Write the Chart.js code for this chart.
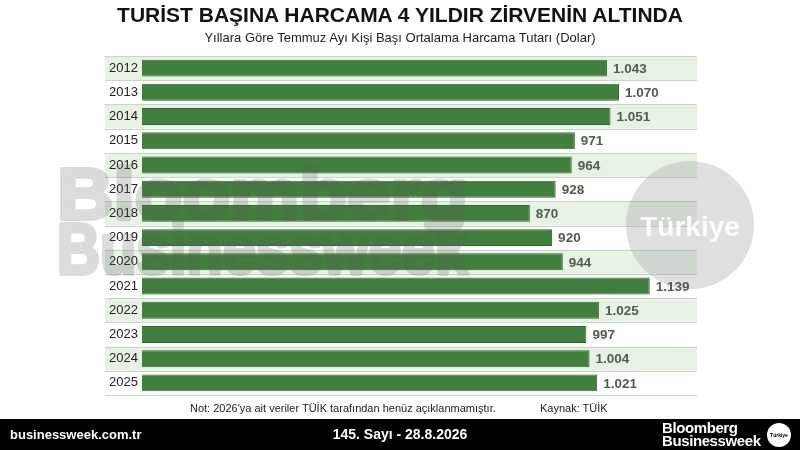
<!DOCTYPE html>
<html lang="tr">
<head>
<meta charset="utf-8">
<script src="https://cdn.jsdelivr.net/npm/chart.js@4.4.1/dist/chart.umd.min.js"></script>
<style>
    html, body { margin: 0; padding: 0; background: #fff; }
    body { width: 800px; height: 450px; position: relative; overflow: hidden;
           font-family: "Liberation Sans", Arial, sans-serif; }
    #chart { position: absolute; left: 0; top: 0; }
    .txt { position: absolute; white-space: nowrap; }
    #title { left: 0; width: 800px; top: 3px; text-align: center;
             font-size: 21px; font-weight: bold; color: #111; }
    #subtitle { left: 0; width: 800px; top: 30px; text-align: center;
                font-size: 13px; color: #222; }
    #note { left: 190px; top: 402px; font-size: 11px; color: #222; }
    #source { left: 540px; top: 402px; font-size: 11px; color: #222; }
    #footer { position: absolute; left: 0; top: 419px; width: 800px; height: 31px;
              background: #000; color: #fff; font-weight: bold; }
    #site { left: 10px; top: 8px; font-size: 13px; }
    #issue { left: 0; width: 800px; text-align: center; top: 7px; font-size: 14px; }
    #logo { left: 662px; top: 2px; font-size: 15px; line-height: 13px; letter-spacing: -0.4px; }
    #badge { left: 767px; top: 4px; width: 24px; height: 24px; border-radius: 50%;
             background: #fff; color: #000; font-size: 5px; text-align: center;
             line-height: 24px; font-weight: bold; }
</style>
</head>
<body>
<canvas id="chart" width="800" height="450"></canvas>
<div class="txt" id="title">TURİST BAŞINA HARCAMA 4 YILDIR ZİRVENİN ALTINDA</div>
<div class="txt" id="subtitle">Yıllara Göre Temmuz Ayı Kişi Başı Ortalama Harcama Tutarı (Dolar)</div>
<div class="txt" id="note">Not: 2026'ya ait veriler TÜİK tarafından henüz açıklanmamıştır.</div>
<div class="txt" id="source">Kaynak: TÜİK</div>
<div id="footer">
    <div class="txt" id="site">businessweek.com.tr</div>
    <div class="txt" id="issue">145. Sayı - 28.8.2026</div>
    <div class="txt" id="logo">Bloomberg<br>Businessweek</div>
    <div class="txt" id="badge">Türkiye</div>
</div>
<script>
// --- veriler
const years = ["2012", "2013", "2014", "2015", "2016", "2017", "2018",
               "2019", "2020", "2021", "2022", "2023", "2024", "2025"];
const spending = [1043, 1070, 1051, 971, 964, 928, 870,
                  920, 944, 1139, 1025, 997, 1004, 1021];

const FONT = "'Liberation Sans', Arial, sans-serif";

// Türkçe binlik ayırıcı: 1043 -> 1.043
function fmt(v) {
    return String(v).replace(/\B(?=(\d{3})+(?!\d))/g, ".");
}

// satır zeminleri (yeşil / beyaz) ve ara çizgiler
const stripes = {
    id: "stripes",
    beforeDraw(chart) {
        const ctx = chart.ctx;
        const y = chart.scales.y;
        const area = chart.chartArea;
        const h = (area.bottom - area.top) / years.length;
        const left = 105;
        ctx.save();
        years.forEach((_, i) => {
            const cy = y.getPixelForValue(i);
            if (i % 2 === 0) {
                ctx.fillStyle = "#e7f2e5";
                ctx.fillRect(left, cy - h / 2, area.right - left, h);
            }
        });
        ctx.strokeStyle = "#c9d3c9";
        ctx.lineWidth = 1;
        for (let i = 0; i <= years.length; i++) {
            const ly = Math.round(area.top + i * h) + 0.5;
            ctx.beginPath();
            ctx.moveTo(left, ly);
            ctx.lineTo(area.right, ly);
            ctx.stroke();
        }
        ctx.restore();
    },
};

// filigran + değer etiketleri
const overlay = {
    id: "overlay",
    afterDatasetsDraw(chart) {
        const ctx = chart.ctx;
        ctx.save();
        // Bloomberg Businessweek filigranı (kalın görünsün diye ayrı tuvalde)
        const off = document.createElement("canvas");
        off.width = 800; off.height = 450;
        const o = off.getContext("2d");
        o.fillStyle = o.strokeStyle = "#5a5a5a";
        o.lineWidth = 4;
        o.lineJoin = "round";
        o.font = "bold 72px " + FONT;
        o.textBaseline = "alphabetic";
        [["Bloomberg", 219], ["Businessweek", 274]].forEach(([t, by]) => {
            const w = o.measureText(t).width;
            o.save();
            o.translate(57, by);
            o.scale(411 / w, 1);
            o.fillText(t, 0, 0);
            o.strokeText(t, 0, 0);
            o.restore();
        });
        ctx.globalAlpha = 0.22;
        ctx.drawImage(off, 0, 0);
        ctx.globalAlpha = 1;

        // Türkiye dairesi
        ctx.beginPath();
        ctx.arc(690, 225, 64, 0, Math.PI * 2);
        ctx.fillStyle = "rgba(150, 150, 150, 0.3)";
        ctx.fill();
        ctx.fillStyle = "rgba(255, 255, 255, 0.9)";
        ctx.font = "bold 28px " + FONT;
        ctx.textAlign = "center";
        ctx.textBaseline = "middle";
        ctx.fillText("Türkiye", 690, 228);

        // değerler
        const meta = chart.getDatasetMeta(0);
        ctx.font = "bold 13.5px " + FONT;
        ctx.fillStyle = "#4b5f4b";
        ctx.textAlign = "left";
        ctx.textBaseline = "middle";
        meta.data.forEach((bar, i) => {
            ctx.fillText(fmt(spending[i]), bar.x + 6, bar.y + 1);
        });
        ctx.restore();
    },
};

new Chart(document.getElementById("chart"), {
    type: "bar",
    data: {
        labels: years,
        datasets: [{
            data: spending,
            backgroundColor: "#41803c",
            borderColor: "#2f6a2c",
            borderWidth: 1,
            barPercentage: 0.7,
            categoryPercentage: 1,
        }],
    },
    options: {
        indexAxis: "y",
        responsive: false,
        animation: false,
        layout: { padding: { left: 105, right: 103, top: 56, bottom: 55 } },
        plugins: {
            legend: { display: false },
            tooltip: { enabled: false },
        },
        scales: {
            x: { display: false, min: 0, max: 1245 },
            y: {
                grid: { display: false, drawTicks: false, tickLength: 0 },
                border: { display: false },
                ticks: {
                    color: "#222",
                    padding: 4,
                    font: { family: FONT, size: 13 },
                },
                afterFit(axis) { axis.width = 37; },
            },
        },
    },
    plugins: [stripes, overlay],
});
</script>
</body>
</html>
